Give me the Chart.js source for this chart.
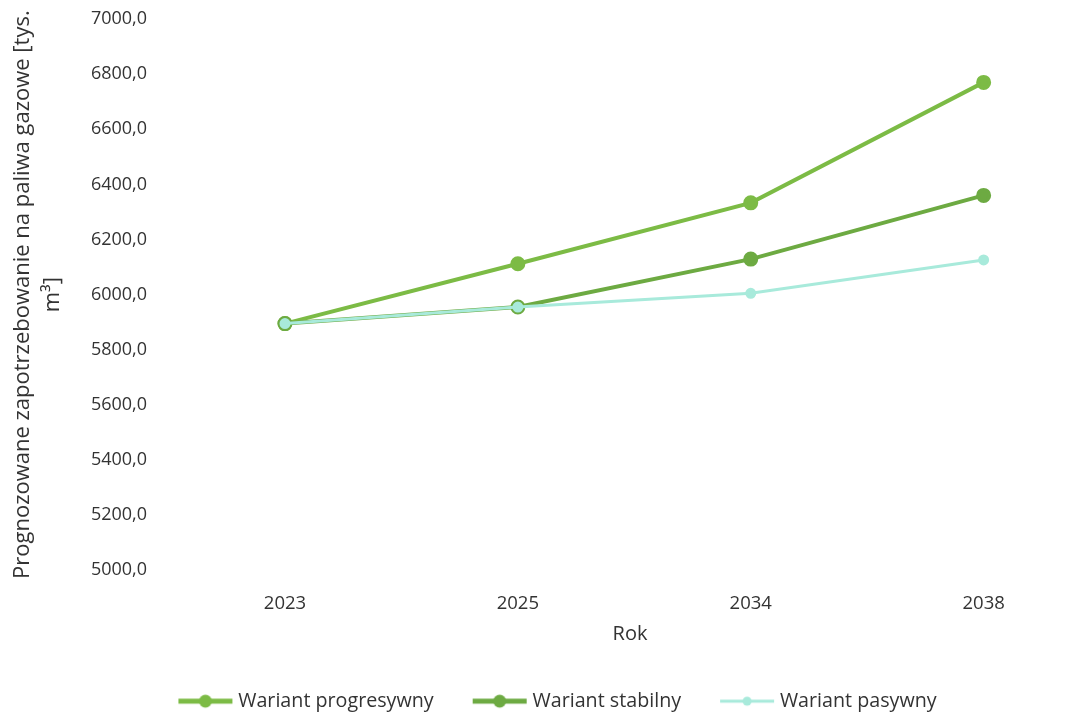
<!DOCTYPE html>
<html>
<head>
<meta charset="utf-8">
<script src="https://cdn.jsdelivr.net/npm/chart.js@4.4.1/dist/chart.umd.min.js"></script>
<style>
html,body{margin:0;padding:0;background:#fff;overflow:hidden;}
#c{display:block;}
</style>
</head>
<body>
<canvas id="c" width="1091" height="715"></canvas>
<script>
const categories = ['2023', '2025', '2034', '2038'];
const progresywny = [5895, 6112, 6333, 6770];
const stabilny = [5895, 5955, 6129, 6360];
const pasywny = [5895, 5955, 6005, 6126];
const yTicks = [5000, 5200, 5400, 5600, 5800, 6000, 6200, 6400, 6600, 6800, 7000];
const seriesNames = ['Wariant progresywny', 'Wariant stabilny', 'Wariant pasywny'];
const colors = ['#7cbb45', '#6daa42', '#a8eadb'];

function marker(color, lw, r) {
  const cv = document.createElement('canvas');
  cv.width = 56; cv.height = 16;
  const x = cv.getContext('2d');
  x.strokeStyle = color; x.lineWidth = lw;
  x.beginPath(); x.moveTo(1, 8); x.lineTo(55, 8); x.stroke();
  x.fillStyle = color;
  x.beginPath(); x.arc(28, 8, r, 0, Math.PI * 2); x.fill();
  return cv;
}

const ds = [progresywny, stabilny, pasywny].map((d, i) => ({
  label: seriesNames[i],
  data: d.map((v, k) => ({ x: k, y: v })),
  borderColor: colors[i],
  backgroundColor: colors[i],
  borderWidth: i === 2 ? 3 : 4,
  pointRadius: i === 2 ? 4 : 5.5,
  pointHoverRadius: 5,
  pointStyle: 'circle',
  tension: 0,
  clip: false,
  order: i === 2 ? 0 : (i === 1 ? 1 : 2)
}));

new Chart(document.getElementById('c'), {
  type: 'line',
  data: { datasets: ds },
  options: {
    responsive: false,
    animation: false,
    layout: { autoPadding: false, padding: { top: 19, right: -20, bottom: -6, left: 8 } },
    plugins: {
      tooltip: { enabled: false },
      legend: {
        position: 'bottom',
        labels: {
          usePointStyle: true,
          pointStyleWidth: 46,
          padding: 43,
          color: '#333',
          font: { family: '"Open Sans", sans-serif', size: 19.7 },
          generateLabels: (chart) => chart.data.datasets.map((d, i) => ({
            text: d.label,
            pointStyle: marker(colors[i], i === 2 ? 3 : 5, i === 2 ? 4.5 : 6.5),
            fillStyle: colors[i],
            strokeStyle: colors[i],
            lineWidth: 0,
            hidden: false,
            datasetIndex: i,
            fontColor: '#333'
          }))
        }
      }
    },
    scales: {
      x: {
        type: 'linear',
        min: -0.498,
        max: 3.461,
        afterBuildTicks: (s) => { s.ticks = categories.map((c, k) => ({ value: k })); },
        grid: { display: false, drawTicks: false },
        border: { display: false },
        ticks: {
          color: '#333', padding: 22, maxRotation: 0,
          font: { family: '"Open Sans", sans-serif', size: 18.5 },
          callback: (v) => categories[v]
        },
        title: { display: true, text: 'Rok', color: '#333', padding: { top: 4, bottom: 2 }, font: { family: '"Open Sans", sans-serif', size: 20 } },
        afterFit: (s) => { s.height = 78; s.paddingLeft = 0; s.paddingRight = 0; }
      },
      y: {
        min: 5000, max: 7000,
        afterBuildTicks: (s) => { s.ticks = yTicks.map(v => ({ value: v })); },
        grid: { display: false, drawTicks: false },
        border: { display: false },
        ticks: {
          color: '#333', padding: 22,
          font: { family: '"Open Sans", sans-serif', size: 18 },
          callback: (v) => v.toFixed(1).replace('.', ',')
        },
        title: {
          display: true,
          text: ['Prognozowane zapotrzebowanie na paliwa gazowe [tys.', 'm³]'],
          color: '#333',
          padding: { top: 0, bottom: 2 },
          font: { family: '"Open Sans", sans-serif', size: 22, lineHeight: 1.36 }
        },
        afterFit: (s) => { s.width = 161; s.paddingTop = 0; s.paddingBottom = 0; }
      }
    }
  }
});
</script>
</body>
</html>
